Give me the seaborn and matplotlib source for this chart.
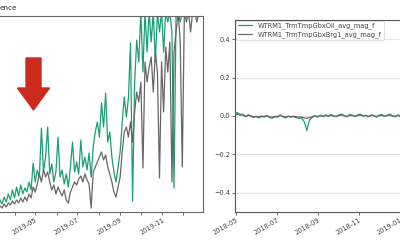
import numpy as np
import pandas as pd
import matplotlib
matplotlib.use("Agg")
import matplotlib.pyplot as plt
import matplotlib.dates as mdates
import seaborn as sns
from matplotlib.patches import FancyArrow

sns.set_style("ticks")
plt.rcParams['font.family'] = ['DejaVu Sans']

# ---------------- data ----------------
series_names = ["WTRM1_TrmTmpGbxOil_avg_mag_f", "WTRM1_TrmTmpGbxBrg1_avg_mag_f"]
title_fragment = "ence"

# left panel: sampled every 3 days starting 2019-03-11 (arbitrary units, axis hidden)
left_start = "2019-03-11"
left_oil = [12, 8, 15, 10, 18, 12, 22, 14, 25, 16,
            27, 18, 24, 20, 30, 22, 49, 30, 42, 35,
            84, 40, 55, 85, 38, 48, 30, 40, 75, 35,
            42, 28, 38, 25, 45, 70, 40, 50, 38, 72,
            45, 55, 42, 59, 35, 65, 80, 90, 75, 109,
            85, 119, 70, 80, 55, 40, 30, 45, 60, 90,
            115, 95, 114, 169, 11, 130, 172, 150, 200, 140,
            200, 160, 200, 170, 200, 150, 200, 180, 200, 160,
            200, 190, 200, 180, 24, 200, 200, 190, 200, 200,
            200, 200, 200, 200, 200, 200, 200, 200]
left_brg = [6, 4, 8, 5, 9, 7, 11, 8, 12, 9,
            14, 10, 15, 11, 18, 14, 25, 20, 28, 38,
            30, 42, 35, 40, 30, 22, 27, 18, 25, 20,
            16, 22, 12, 9, 20, 25, 30, 27, 33, 36,
            30, 38, 32, 28, 4, 40, 45, 50, 55, 60,
            52, 57, 45, 38, 30, 20, 15, 25, 35, 60,
            80, 85, 75, 90, 70, 100, 120, 110, 130, 44,
            150, 130, 145, 155, 120, 160, 140, 34, 150, 100,
            165, 140, 170, 30, 160, 180, 200, 170, 45, 200,
            190, 200, 180, 200, 200, 190, 200, 200]

# right panel: sampled every 4 days starting 2018-04-29
right_start = "2018-04-29"
right_oil = [0.012, 0.018, 0.008, 0.010, -0.004, 0.006, 0.002, -0.008, -0.003, -0.010,
             -0.002, -0.006, 0.004, -0.008, -0.012, -0.004, -0.006, 0.006, -0.004, -0.010,
             -0.002, -0.006, -0.003, -0.008, -0.012, -0.010, -0.030, -0.075, -0.020, -0.008,
             0.002, -0.006, 0.004, -0.004, 0.006, -0.002, 0.008, 0.000, -0.004, 0.006,
             0.010, 0.002, -0.004, 0.008, 0.004, -0.002, 0.006, 0.010, 0.000, 0.004,
             -0.004, 0.006, 0.002, -0.006, 0.004, 0.008, -0.002, 0.004, 0.010, 0.000,
             -0.004, 0.006, -0.002, 0.004, 0.008, -0.004, 0.002, 0.006, -0.002, 0.004,
             0.000, 0.006, -0.002, 0.004, 0.002]
right_brg = [0.006, 0.010, 0.004, 0.006, -0.002, 0.003, 0.000, -0.004, -0.002, -0.005,
             -0.001, -0.003, 0.002, -0.004, -0.006, -0.002, -0.003, 0.003, -0.002, -0.005,
             -0.001, -0.003, -0.002, -0.004, -0.006, -0.005, -0.010, -0.012, -0.008, -0.004,
             0.001, -0.003, 0.002, -0.002, 0.003, -0.001, 0.004, 0.000, -0.002, 0.003,
             0.005, 0.001, -0.002, 0.004, 0.002, -0.001, 0.003, 0.005, 0.000, 0.002,
             -0.002, 0.003, 0.001, -0.003, 0.002, 0.004, -0.001, 0.002, 0.005, 0.000,
             -0.002, 0.003, -0.001, 0.002, 0.004, -0.002, 0.001, 0.003, -0.001, 0.002,
             0.000, 0.003, -0.001, 0.002, 0.001]

colors = ["#1b9e77", "#666666"]

def long_df(start, step, a, b):
    d = pd.date_range(start, periods=len(a), freq=f"{step}D")
    return pd.DataFrame({
        "date": np.concatenate([d, d]),
        "value": np.concatenate([a, b]),
        "series": [series_names[0]] * len(a) + [series_names[1]] * len(b),
    })

df_left = long_df(left_start, 3, left_oil, left_brg)
df_right = long_df(right_start, 4, right_oil, right_brg)

fig = plt.figure(figsize=(4, 2.5), dpi=100)
spine_c = "#555555"
tick_c = "#444444"
fs = 4.8

# ---------------- left panel ----------------
ax1 = fig.add_axes([0.0, 0.152, 0.5075, 0.784])
sns.lineplot(data=df_left, x="date", y="value", hue="series", palette=colors,
             linewidth=0.9, ax=ax1, legend=False)
ax1.set_ylim(0, 196)
ax1.set_xlim(pd.Timestamp("2019-03-11"), pd.Timestamp("2019-12-30"))
ax1.set_yticks([])
ax1.spines["left"].set_visible(False)
for s in ["top", "right", "bottom"]:
    ax1.spines[s].set_color("#666666")
    ax1.spines[s].set_linewidth(0.8)
ax1.xaxis.set_major_locator(mdates.MonthLocator(bymonth=[5, 7, 9, 11]))
ax1.xaxis.set_minor_locator(mdates.MonthLocator())
ax1.xaxis.set_major_formatter(mdates.DateFormatter("%Y-%m"))
ax1.tick_params(axis="x", which="both", length=2, width=0.6, color=spine_c,
                labelsize=fs, labelcolor=tick_c, pad=1.5)
plt.setp(ax1.get_xticklabels(), rotation=30, ha="right", rotation_mode="anchor")
ax1.set_xlabel("")
ax1.set_ylabel("")

# red arrow annotation
arrow = FancyArrow(0.335, 1.92, 0, -0.52, width=0.15, head_width=0.32,
                   head_length=0.22, length_includes_head=True,
                   color="#cc2a1c", transform=fig.dpi_scale_trans)
fig.add_artist(arrow)

fig.text(0.0, 0.968, title_fragment, fontsize=5.2, color="#333333",
         ha="left", va="center")

# ---------------- right panel ----------------
ax2 = fig.add_axes([0.5875, 0.152, 0.5, 0.768])
sns.lineplot(data=df_right, x="date", y="value", hue="series", palette=colors,
             linewidth=0.9, ax=ax2)
ax2.set_ylim(-0.5, 0.5)
ax2.set_xlim(pd.Timestamp("2018-04-29 12:00"), pd.Timestamp("2019-02-22 12:00"))
ax2.set_yticks([-0.4, -0.2, 0.0, 0.2, 0.4])
ax2.yaxis.grid(True, color="#e6e6e6", linewidth=0.8)
ax2.set_axisbelow(True)
ax2.xaxis.set_major_locator(mdates.MonthLocator(bymonth=[1, 3, 5, 7, 9, 11]))
ax2.xaxis.set_major_formatter(mdates.DateFormatter("%Y-%m"))
for s in ["top", "left", "bottom", "right"]:
    ax2.spines[s].set_color(spine_c)
    ax2.spines[s].set_linewidth(0.8)
ax2.tick_params(axis="both", length=2, width=0.6, color=spine_c,
                labelsize=fs, labelcolor=tick_c, pad=1.5)
plt.setp(ax2.get_xticklabels(), rotation=30, ha="right", rotation_mode="anchor")
ax2.set_xlabel("")
ax2.set_ylabel("")
leg = ax2.legend(loc="upper left", fontsize=fs, frameon=True, borderaxespad=0.1,
                 handlelength=2.2, labelspacing=0.3, borderpad=0.3, title=None)
leg.get_frame().set_linewidth(0.5)
leg.get_frame().set_edgecolor("#cccccc")
for t in leg.get_texts():
    t.set_color("#444444")

fig.savefig("out.png", dpi=100)
